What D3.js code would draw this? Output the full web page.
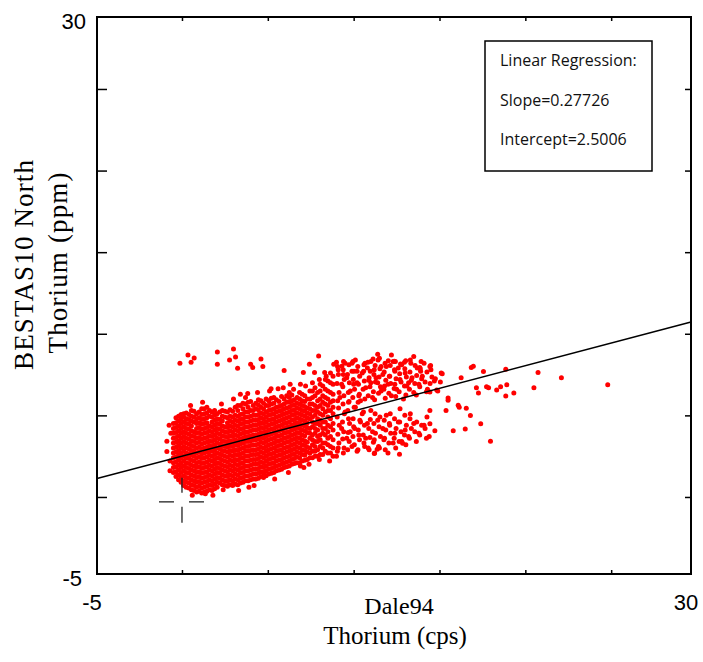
<!DOCTYPE html>
<html>
<head>
<meta charset="utf-8">
<script src="https://cdn.jsdelivr.net/npm/d3@7"></script>
<style>
  html, body { margin: 0; padding: 0; background: #fff; }
  svg { display: block; }
</style>
</head>
<body>
<svg id="chart" width="703" height="662"></svg>
<script>
// ---------------- DATA ----------------
const xDomain = [-4.95, 29.65];
const yDomain = [-4.72, 29.41];
const xTickValues = [0, 5, 10, 15, 20, 25];
const yTickValues = [0, 5, 10, 15, 20, 25];
const xTickLabels = ["-5", "30"];
const yTickLabels = ["-5", "30"];
const xTitle = ["Dale94", "Thorium (cps)"];
const yTitle = ["BESTAS10 North", "Thorium (ppm)"];
const legendLines = ["Linear Regression:", "Slope=0.27726", "Intercept=2.5006"];
const slope = 0.27726;
const intercept = 2.5006;
const originMark = [0, -0.3];

// dense core: columns of [x, [y values]]
const coreColumns = [
  [-0.5, [1.5,1.8,2.1,2.4,2.7,3.0,3.3,3.6,3.9,4.2,4.5]],
  [-0.35, [1.25,1.55,1.85,2.15,2.45,2.75,3.05,3.35,3.65,3.95,4.25,4.55,4.85]],
  [-0.2, [1.05,1.35,1.65,1.95,2.25,2.55,2.85,3.15,3.45,3.75,4.05,4.35,4.65,4.95]],
  [-0.05, [0.9,1.2,1.5,1.8,2.1,2.4,2.7,3.0,3.3,3.6,3.9,4.2,4.5,4.8,5.05]],
  [0.1, [0.7,1.0,1.3,1.6,1.9,2.2,2.5,2.8,3.1,3.4,3.7,4.0,4.3,4.6,4.9,5.1]],
  [0.25, [0.6,0.9,1.2,1.5,1.8,2.1,2.4,2.7,3.0,3.3,3.6,3.9,4.2,4.5,4.8,5.15]],
  [0.4, [0.55,0.85,1.15,1.45,1.75,2.05,2.35,2.65,2.95,3.25,3.55,3.85,4.15,4.45,4.75,5.05]],
  [0.55, [0.45,0.75,1.05,1.35,1.65,1.95,2.25,2.55,2.85,3.15,3.45,3.75,4.05,4.35,4.65,4.95,5.3]],
  [0.7, [0.4,0.7,1.0,1.3,1.6,1.9,2.2,2.5,2.8,3.1,3.4,3.7,4.0,4.6,4.9,5.25]],
  [0.85, [0.3,0.6,0.9,1.2,1.5,1.8,2.1,2.4,2.7,3.0,3.3,3.6,3.9,4.2,4.5,4.8,5.1]],
  [1.0, [0.35,0.65,0.95,1.25,1.55,1.85,2.15,2.45,2.75,3.05,3.35,3.65,3.95,4.25,4.55,4.85,5.2]],
  [1.15, [0.25,0.55,0.85,1.15,1.45,1.75,2.05,2.35,2.65,2.95,3.25,3.55,3.85,4.15,4.45,4.75,5.05,5.4]],
  [1.3, [0.3,0.6,0.9,1.2,1.5,1.8,2.1,2.4,2.7,3.0,3.3,3.6,3.9,4.2,4.5,4.8,5.1,5.4]],
  [1.45, [0.35,0.65,0.95,1.25,1.55,1.85,2.15,2.45,2.75,3.05,3.35,3.65,3.95,4.25,4.55,4.85,5.15,5.5]],
  [1.6, [0.45,0.75,1.05,1.35,1.65,1.95,2.25,2.55,2.85,3.15,3.45,3.75,4.05,4.35,4.95,5.3]],
  [1.75, [0.4,0.7,1.0,1.3,1.6,1.9,2.2,2.5,2.8,3.1,3.4,3.7,4.0,4.3,4.6,4.9,5.2]],
  [1.9, [0.5,0.8,1.1,1.4,1.7,2.0,2.3,2.6,2.9,3.2,3.5,3.8,4.1,4.4,4.7,5.0,5.3]],
  [2.05, [0.6,0.9,1.2,1.5,1.8,2.1,2.4,2.7,3.0,3.3,3.6,3.9,4.2,4.5,4.8,5.1]],
  [2.2, [0.85,1.15,1.45,1.75,2.05,2.35,2.65,2.95,3.25,3.55,3.85,4.15,4.45,4.75,5.2]],
  [2.35, [0.75,1.05,1.35,1.65,1.95,2.25,2.55,2.85,3.15,3.45,3.75,4.05,4.35,4.65,4.95,5.3]],
  [2.5, [0.7,1.0,1.3,1.6,1.9,2.2,2.5,2.8,3.1,3.4,3.7,4.0,4.3,4.9,5.25]],
  [2.65, [0.65,0.95,1.25,1.55,1.85,2.15,2.45,2.75,3.05,3.35,3.65,3.95,4.25,4.55,4.85,5.2]],
  [2.8, [0.75,1.05,1.35,1.65,1.95,2.25,2.55,2.85,3.15,3.45,3.75,4.05,4.35,4.65,4.95,5.35]],
  [2.95, [0.7,1.0,1.3,1.6,1.9,2.2,2.5,2.8,3.1,3.4,3.7,4.0,4.3,4.6,4.9,5.25]],
  [3.1, [0.8,1.1,1.4,1.7,2.0,2.3,2.6,2.9,3.2,3.5,3.8,4.1,4.4,4.7,5.0,5.5]],
  [3.25, [0.75,1.05,1.35,1.65,1.95,2.25,2.55,2.85,3.15,3.45,3.75,4.05,4.35,4.65,4.95,5.3,5.6]],
  [3.4, [0.85,1.15,1.45,1.75,2.05,2.35,2.65,2.95,3.25,3.55,3.85,4.15,4.45,4.75,5.05,5.6,6.3]],
  [3.55, [0.9,1.2,1.5,1.8,2.1,2.4,2.7,3.0,3.3,3.6,3.9,4.2,4.5,4.8,5.1,5.4,5.75]],
  [3.7, [1.0,1.3,1.6,1.9,2.2,2.5,2.8,3.1,3.4,3.7,4.0,4.3,4.6,4.9,5.2,5.7]],
  [3.85, [1.0,1.3,1.6,1.9,2.2,2.5,2.8,3.1,3.4,3.7,4.0,4.3,4.6,4.9,5.2,5.5,5.8]],
  [4.0, [1.05,1.35,1.65,1.95,2.25,2.55,2.85,3.15,3.45,3.75,4.05,4.35,4.65,4.95,5.3,5.85]],
  [4.15, [1.1,1.4,1.7,2.0,2.3,2.6,2.9,3.2,3.5,3.8,4.1,4.4,4.7,5.0,5.3,5.6]],
  [4.3, [1.1,1.4,1.7,2.0,2.3,2.6,2.9,3.2,3.5,3.8,4.1,4.4,4.7,5.0,5.4,5.75]],
  [4.45, [1.15,1.45,1.75,2.05,2.35,2.65,2.95,3.25,3.55,3.85,4.15,4.45,4.75,5.05,5.35,5.65,5.95]],
  [4.6, [1.25,1.55,1.85,2.15,2.45,2.75,3.05,3.35,3.65,3.95,4.25,4.55,4.85,5.15,5.5,5.9]],
  [4.75, [1.2,1.5,1.8,2.1,2.4,2.7,3.0,3.3,3.6,3.9,4.2,4.5,4.8,5.1,5.4,5.75]],
  [4.9, [1.3,1.6,1.9,2.2,2.5,2.8,3.1,3.4,3.7,4.0,4.3,4.6,4.9,5.2,5.6,6.0]],
  [5.05, [1.4,1.7,2.0,2.3,2.6,2.9,3.2,3.5,3.8,4.1,4.4,4.7,5.0,5.3,5.6,5.9]],
  [5.2, [1.45,1.75,2.05,2.35,2.65,2.95,3.25,3.55,3.85,4.15,4.45,4.75,5.05,5.35,5.7,6.05]],
  [5.35, [1.5,1.8,2.1,2.4,2.7,3.0,3.3,3.6,3.9,4.2,4.5,4.8,5.1,5.4,5.75,6.1]],
  [5.5, [1.6,1.9,2.2,2.5,2.8,3.1,3.4,3.7,4.0,4.3,4.6,4.9,5.2,5.5,5.95]],
  [5.65, [1.65,1.95,2.25,2.55,2.85,3.15,3.45,3.75,4.05,4.35,4.65,4.95,5.25,5.55,5.85]],
  [5.8, [1.7,2.0,2.3,2.6,2.9,3.2,3.5,3.8,4.1,4.4,4.7,5.0,5.3,5.6,6.15]],
  [5.95, [1.8,2.1,2.4,2.7,3.0,3.3,3.6,3.9,4.2,4.5,4.8,5.1,5.4,5.7,6.0]],
  [6.1, [1.85,2.15,2.45,2.75,3.05,3.35,3.65,3.95,4.25,4.55,4.85,5.15,5.45,5.8,6.2]],
  [6.25, [1.9,2.2,2.5,2.8,3.1,3.4,3.7,4.0,4.3,4.6,4.9,5.2,5.5,5.8,6.1,6.4]],
  [6.4, [2.0,2.3,2.6,2.9,3.2,3.5,3.8,4.1,4.4,4.7,5.0,5.3,5.6,5.9,6.25]],
  [6.55, [2.05,2.35,2.65,2.95,3.25,3.55,3.85,4.15,4.45,4.75,5.05,5.35,5.65,5.95]],
  [6.7, [2.1,2.45,2.75,3.05,3.35,3.65,3.95,4.25,4.55,4.85,5.15,5.45,5.75,6.1]],
  [6.85, [2.1,2.4,2.7,3.0,3.3,3.6,3.9,4.2,4.5,4.8,5.1,5.4,5.7,6.0,6.4]],
  [7.0, [2.2,2.6,2.9,3.2,3.5,3.8,4.1,4.4,4.7,5.0,5.3,5.6,5.9,6.3]],
  [7.15, [2.25,2.55,2.85,3.15,3.45,3.75,4.05,4.35,4.65,4.95,5.25,5.55,5.85,6.2]],
  [7.3, [2.3,2.75,3.05,3.35,3.95,4.25,4.55,4.85,5.15,5.45,6.0]],
  [7.45, [2.4,2.7,3.0,3.6,3.9,4.2,4.8,5.1,5.4,5.7,6.0,6.5]],
  [7.6, [2.4,2.8,3.2,3.5,3.8,4.3,4.6,4.9,5.3,5.7,6.1,6.5]],
  [7.75, [2.5,2.8,3.1,3.4,3.9,4.2,4.5,5.0,5.3,5.6,6.2,6.7]],
  [7.9, [2.5,2.9,3.4,3.7,4.1,4.5,4.8,5.2,5.5,5.9,6.4]],
  [8.05, [2.6,3.1,3.5,3.8,4.4,4.7,5.1,5.6,6.0,6.5,6.9]],
  [8.2, [2.6,3.0,3.3,3.9,4.2,4.6,5.0,5.4,5.8,6.2,6.8]],
  [8.35, [2.8,3.3,3.8,4.2,4.6,5.2,5.7,6.1,6.6,7.2]],
  [8.5, [2.7,3.2,3.6,4.0,4.4,4.9,5.3,5.6,6.0,6.5,7.1]],
  [8.65, [2.7,3.1,3.7,4.3,4.8,5.3,5.8,6.4,7.0,7.6]],
  [8.8, [2.5,3.0,3.5,4.1,4.5,5.1,5.5,5.9,6.3,6.9,7.4]]
];

// medium-density part x 9-10.7 [x, y]
const midPoints = [
  [9.05,2.8],[9.14,3.3],[9.08,3.85],[9.16,4.4],[9.04,4.9],[9.12,5.45],[9.07,5.9],[9.15,6.4],[9.03,6.95],[9.11,7.5],[9.06,8.0],
  [9.44,3.0],[9.36,3.55],[9.42,4.0],[9.35,4.6],[9.46,5.1],[9.38,5.7],[9.43,6.2],[9.37,6.75],[9.45,7.2],[9.39,7.8],[9.41,8.3],
  [9.65,2.9],[9.74,3.4],[9.68,3.95],[9.76,4.5],[9.66,5.3],[9.73,5.85],[9.69,6.4],[9.75,7.0],[9.64,7.5],[9.72,8.1],
  [10.04,3.2],[9.96,3.7],[10.06,4.2],[9.97,4.8],[10.03,5.5],[9.95,6.1],[10.05,6.6],[9.98,7.2],[10.02,7.7],[9.96,8.3],
  [10.25,2.9],[10.34,3.5],[10.27,4.1],[10.36,4.7],[10.26,5.8],[10.33,6.3],[10.28,6.9],[10.35,7.4],[10.24,8.0],
  [10.64,3.1],[10.56,3.8],[10.63,4.4],[10.57,5.2],[10.65,6.0],[10.55,6.6],[10.62,7.1],[10.58,7.7],[10.66,8.2]
];

// upper cluster x 10.8-15.2 [x, y]
const upperCluster = [
  [10.85,6.2],[10.95,6.75],[10.88,7.15],[10.97,7.7],[10.83,8.25],
  [11.22,5.95],[11.15,6.45],[11.27,7.05],[11.18,7.5],[11.25,8.05],[11.13,8.45],
  [11.45,6.35],[11.56,6.75],[11.48,7.35],[11.53,7.85],[11.42,8.4],
  [11.84,6.05],[11.76,6.6],[11.87,7.15],[11.78,7.65],[11.83,8.2],
  [12.05,6.35],[12.16,6.95],[12.08,7.4],[12.13,8.05],[12.02,8.35],
  [12.45,6.15],[12.36,6.65],[12.47,7.25],[12.38,7.8],[12.43,8.3],
  [12.65,6.45],[12.76,7.05],[12.68,7.55],[12.73,8.15],
  [13.04,6.25],[12.96,6.8],[13.07,7.35],[12.98,7.85],[13.03,8.35],
  [13.25,6.6],[13.36,7.15],[13.28,7.65],[13.33,8.2],
  [13.65,6.25],[13.56,6.95],[13.67,7.45],[13.58,8.05],
  [13.85,6.75],[13.96,7.25],[13.88,7.85],[13.93,8.3],
  [14.24,6.45],[14.16,7.05],[14.27,7.65],
  [14.45,6.95],[14.56,7.35],[14.48,8.05],
  [14.84,6.55],[14.76,7.25],
  [15.05,7.05],[15.16,7.55]
];

// lower cluster x 10.8-14.3 [x, y]
const lowerCluster = [
  [10.85,3.0],[10.95,3.65],[10.88,4.2],[10.97,4.75],
  [11.22,2.7],[11.15,3.35],[11.27,3.9],[11.18,4.5],[11.25,5.1],
  [11.45,3.1],[11.56,3.7],[11.48,4.3],[11.53,4.9],
  [11.84,2.9],[11.76,3.5],[11.87,4.1],[11.78,4.7],
  [12.05,3.3],[12.16,3.9],[12.08,4.5],[12.13,5.1],
  [12.45,3.0],[12.36,3.6],[12.47,4.2],[12.38,4.8],
  [12.65,3.4],[12.76,4.0],[12.68,4.6],
  [13.04,3.2],[12.96,3.8],[13.07,4.4],[12.98,5.0],
  [13.25,3.6],[13.36,4.2],[13.28,4.8],
  [13.65,3.4],[13.56,4.0],[13.67,4.6],
  [13.85,3.8],[13.96,4.4],
  [14.24,3.6],[14.16,4.2],[14.27,4.9]
];

// scattered points [x, y]
const scatterPoints = [
  // ragged edges of the core
  [-0.88,3.42],[-0.88,2.79],[-0.7,2.2],[-0.65,3.9],[-0.7,1.6],[-0.75,4.4],
  [0.5,5.6],[1.2,5.8],[2.3,5.7],[3.0,6.0],[4.4,6.4],[5.1,6.5],[5.9,6.7],[6.3,6.9],
  [0.6,0.1],[1.8,0.1],[3.3,0.4],[4.2,0.7],[5.4,1.1],[6.2,1.5],[7.1,1.8],[3.9,0.6],
  // isolated points above the core (left)
  [-0.12,8.2],[0.35,8.7],[0.53,8.26],[0.71,8.51],[2.06,8.89],[2.06,8.13],[2.77,8.39],
  [3.0,9.07],[3.12,8.57],[3.24,7.88],[4.0,8.13],[4.12,7.94],[4.6,8.45],[4.71,8.0],
  [3.83,6.34],[3.7,6.1],[5.19,6.63],[5.6,6.63],[5.95,7.75],[7.07,7.63],[7.72,7.63],
  [7.42,8.13],[7.96,8.64],[8.31,7.63],[8.84,8.13],[9.0,8.26],[9.31,8.01],[9.9,8.2],
  [6.5,6.6],[7.2,6.8],[7.6,7.0],[8.0,7.2],[8.4,7.4],[6.9,6.9],
  // below core
  [4.77,1.47],[8.0,2.3],[8.6,2.2],[9.0,2.5],[7.4,2.0],[6.9,1.9],[1.36,0.2],[2.4,0.45],
  // upper cluster extras
  [9.1,7.8],[9.3,6.9],[9.5,8.2],[9.6,7.3],[9.8,6.5],[9.9,7.7],[10.1,8.4],[10.2,7.0],
  [10.3,6.2],[10.5,7.6],[10.6,8.1],[10.7,6.7],[10.9,7.3],[11.0,8.3],[11.1,6.1],[11.2,7.8],
  [11.4,7.0],[11.5,8.5],[11.6,6.5],[11.7,7.5],[11.9,8.0],[12.0,6.9],[12.1,7.4],[12.2,6.2],
  [12.3,8.3],[12.4,7.7],[12.5,6.6],[12.7,7.2],[12.8,8.1],[12.9,6.0],[13.0,7.6],[13.1,6.8],
  [13.3,8.4],[13.4,7.3],[13.5,6.4],[13.7,7.9],[13.8,6.9],[14.0,7.4],[14.1,8.2],[14.3,6.6],
  [14.5,7.8],[14.7,7.1],[14.9,6.5],[15.1,7.6],[9.2,6.1],[9.7,5.8],[10.4,5.9],[10.0,6.9],
  [10.8,7.9],[11.3,7.3],[11.8,6.8],[12.6,7.9],[13.2,7.0],[13.9,7.7],[9.4,7.5],[10.2,7.7],
  [11.0,7.0],[11.6,8.0],[12.4,6.9],[12.37,8.32],[12.96,8.26],[13.85,7.94],[14.44,8.0],
  [14.44,6.43],[15.5,6.06],[15.5,5.93],[16.09,5.62],[12.2,8.7],[11.4,8.75],[13.5,8.6],
  // lower part extras
  [9.1,3.0],[9.3,4.2],[9.4,2.7],[9.6,3.6],[9.7,4.8],[9.9,3.1],[10.0,4.3],[10.2,2.8],
  [10.3,3.8],[10.5,5.1],[10.6,3.3],[10.8,4.5],[10.9,2.9],[11.1,4.0],[11.2,3.5],[11.4,4.7],
  [11.5,3.0],[11.7,4.2],[11.8,3.6],[12.0,2.7],[12.1,4.4],[12.3,3.3],[12.4,3.9],[12.6,4.6],
  [12.8,3.4],[13.0,4.1],[13.2,3.7],[13.5,4.5],[13.8,3.9],[14.1,4.4],[14.4,3.7],[9.5,5.2],
  [10.1,5.5],[11.0,5.3],[11.9,5.0],[12.7,5.4],[13.3,5.1],[9.8,4.0],[10.4,4.6],[10.7,3.6],
  [12.67,2.61],[11.2,2.67],[11.37,2.92],[12.85,3.29],[14.73,4.05],[14.44,4.49],[14.44,5.3],
  [15.8,4.05],[16.5,4.17],[15.38,5.3],[16.15,5.49],[16.56,5.43],[16.8,4.99],[17.4,4.49],
  [17.97,3.42],
  // upper right scatter
  [16.26,7.31],[16.85,7.94],[17.56,7.69],[18.86,7.82],[20.74,7.63],[22.1,7.31],[24.8,6.87],
  [20.5,6.69],[19.33,6.37],[18.86,6.18],[18.56,6.75],[17.74,6.75],[17.15,6.69],[17.27,6.37],
  [18.92,6.87],[18.33,6.56],[17.86,6.69],[16.97,8.01]
];

// ---------------- CHART ----------------
const svg = d3.select("#chart");
const mL = 97, mR = 691, mT = 17, mB = 574;

const x = d3.scaleLinear().domain(xDomain).range([mL, mR]);
const y = d3.scaleLinear().domain(yDomain).range([mB, mT]);

const points = [];
coreColumns.forEach(([cx, ys]) => ys.forEach(v => points.push([cx, v])));
[midPoints, upperCluster, lowerCluster, scatterPoints].forEach(arr => arr.forEach(p => points.push(p)));

// points
svg.append("g")
  .selectAll("circle")
  .data(points)
  .join("circle")
  .attr("cx", d => x(d[0]))
  .attr("cy", d => y(d[1]))
  .attr("r", 2.5)
  .attr("fill", "#ff0000");

// regression line
svg.append("line")
  .attr("x1", x(xDomain[0])).attr("y1", y(slope * xDomain[0] + intercept))
  .attr("x2", x(xDomain[1])).attr("y2", y(slope * xDomain[1] + intercept))
  .attr("stroke", "#000").attr("stroke-width", 1.5);

// origin crosshair (dashed)
const ox = x(originMark[0]), oy = y(originMark[1]);
const ch = svg.append("g").attr("stroke", "#222").attr("stroke-width", 1.3);
[[ox - 23, oy, ox - 8, oy], [ox + 7, oy, ox + 22, oy], [ox, oy - 24, ox, oy - 9], [ox, oy + 5, ox, oy + 21]]
  .forEach(s => ch.append("line").attr("x1", s[0]).attr("y1", s[1]).attr("x2", s[2]).attr("y2", s[3]));

// frame
svg.append("rect")
  .attr("x", mL).attr("y", mT)
  .attr("width", mR - mL).attr("height", mB - mT)
  .attr("fill", "none").attr("stroke", "#000").attr("stroke-width", 2);

// ticks (inward, no labels)
const axL = d3.axisRight(y).tickValues(yTickValues).tickSize(10).tickFormat("");
const axR = d3.axisLeft(y).tickValues(yTickValues).tickSize(6).tickFormat("");
const axB = d3.axisTop(x).tickValues(xTickValues).tickSize(4).tickFormat("");
const axT = d3.axisBottom(x).tickValues(xTickValues).tickSize(4).tickFormat("");
[[axL, `translate(${mL},0)`], [axR, `translate(${mR},0)`],
 [axB, `translate(0,${mB})`], [axT, `translate(0,${mT})`]].forEach(([ax, tr]) => {
  const g = svg.append("g").attr("transform", tr).call(ax);
  g.select(".domain").remove();
  g.selectAll("line").attr("stroke", "#000").attr("stroke-width", 1.5);
});

// tick labels at the frame corners
const lblFont = "'Liberation Sans', Arial, sans-serif";
svg.append("text").attr("x", 86).attr("y", mT + 12)
  .attr("text-anchor", "end").attr("font-family", lblFont).attr("font-size", 22).text(yTickLabels[1]);
svg.append("text").attr("x", 82).attr("y", mB + 12)
  .attr("text-anchor", "end").attr("font-family", lblFont).attr("font-size", 22).text(yTickLabels[0]);
svg.append("text").attr("x", mL - 5).attr("y", 610)
  .attr("text-anchor", "middle").attr("font-family", lblFont).attr("font-size", 22).text(xTickLabels[0]);
svg.append("text").attr("x", mR - 5).attr("y", 610)
  .attr("text-anchor", "middle").attr("font-family", lblFont).attr("font-size", 22).text(xTickLabels[1]);

// axis titles
const serif = "'Liberation Serif', 'Times New Roman', serif";
svg.append("text").attr("x", 399).attr("y", 614)
  .attr("text-anchor", "middle").attr("font-family", serif).attr("font-size", 24).text(xTitle[0]);
svg.append("text").attr("x", 395).attr("y", 644)
  .attr("text-anchor", "middle").attr("font-family", serif).attr("font-size", 25).text(xTitle[1]);
svg.append("text").attr("transform", "translate(33,265) rotate(-90)")
  .attr("text-anchor", "middle").attr("font-family", serif).attr("font-size", 27)
  .attr("textLength", 210).attr("lengthAdjust", "spacing").text(yTitle[0]);
svg.append("text").attr("transform", "translate(67,263) rotate(-90)")
  .attr("text-anchor", "middle").attr("font-family", serif).attr("font-size", 27)
  .attr("textLength", 181).attr("lengthAdjust", "spacing").text(yTitle[1]);

// legend box
svg.append("rect").attr("x", 485).attr("y", 41).attr("width", 167).attr("height", 130)
  .attr("fill", "#fff").attr("stroke", "#000").attr("stroke-width", 1.5);
const legFont = "'Open Sans', Calibri, sans-serif";
legendLines.forEach((t, i) => {
  svg.append("text").attr("x", 500).attr("y", 66 + i * 39.5)
    .attr("font-family", legFont).attr("font-size", 16).attr("fill", "#111").text(t);
});
</script>
</body>
</html>
